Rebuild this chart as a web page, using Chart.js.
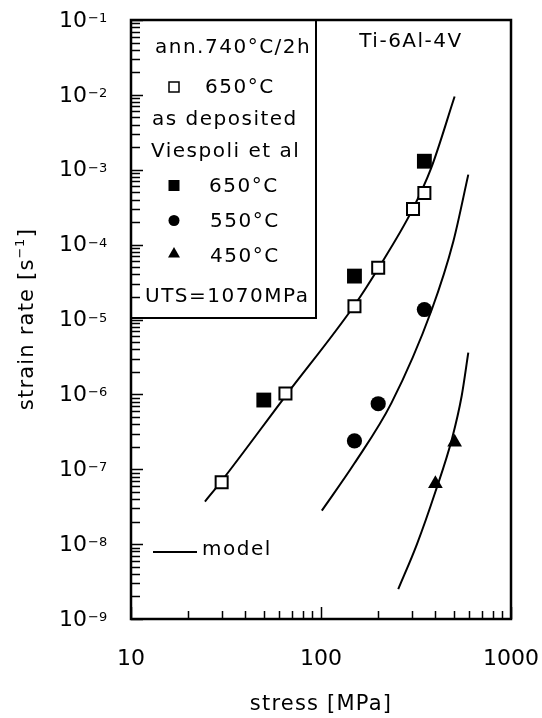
<!DOCTYPE html>
<html>
<head>
<meta charset="utf-8">
<script src="https://cdn.jsdelivr.net/npm/chart.js@4.4.1/dist/chart.umd.min.js"></script>
<style>
  html, body { margin: 0; padding: 0; background: #fff; }
</style>
</head>
<body>
<canvas id="chart" width="542" height="718"></canvas>
<script>
// Ti-6Al-4V: strain rate vs stress (log-log)

// annealed 740°C/2h, tested at 650°C (open squares)
const annStress = [30, 65, 150, 200, 305, 350];
const annRate = [6.7e-8, 1.03e-6, 1.5e-5, 4.9e-5, 3.0e-4, 4.9e-4];

// as deposited, Viespoli et al
const dep650Stress = [50, 150, 350];
const dep650Rate = [8.4e-7, 3.8e-5, 1.3e-3];
const dep550Stress = [150, 200, 350];
const dep550Rate = [2.4e-7, 7.5e-7, 1.36e-5];
const dep450Stress = [400, 505];
const dep450Rate = [6.4e-8, 2.3e-7];

// model curves
const model650Stress = [24.5, 30, 65, 150, 200, 300, 380, 505];
const model650Rate = [3.7e-8, 7.0e-8, 9.5e-7, 1.55e-5, 4.8e-5, 2.8e-4, 1.05e-3, 9.5e-3];
const model550Stress = [101, 150, 235, 383, 497, 596];
const model550Rate = [2.8e-8, 1.2e-7, 7.7e-7, 1.36e-5, 1.1e-4, 8.6e-4];
const model450Stress = [255, 320, 400, 490, 550, 596];
const model450Rate = [2.5e-9, 1.0e-8, 5.0e-8, 2.6e-7, 9.5e-7, 3.6e-6];

// axis ranges
const xMin = 10, xMax = 1000;
const yMin = 1e-9, yMax = 1e-1;

const FONT = "'DejaVu Sans', 'Liberation Sans', sans-serif";

function pts(xs, ys) {
  return xs.map((x, i) => ({ x: x, y: ys[i] }));
}

function modelLine(xs, ys) {
  return {
    data: pts(xs, ys),
    showLine: true,
    pointRadius: 0,
    borderColor: '#000',
    borderWidth: 2,
    cubicInterpolationMode: 'monotone',
    order: 2
  };
}

function setText(ctx, size, spacing) {
  ctx.font = size + 'px ' + FONT;
  ctx.letterSpacing = (spacing || 0) + 'px';
}

const decorations = {
  id: 'decorations',
  afterDraw(chart) {
    const ctx = chart.ctx;
    const a = chart.chartArea;
    const xs = chart.scales.x, ys = chart.scales.y;
    ctx.save();
    ctx.fillStyle = '#000';
    ctx.strokeStyle = '#000';

    // inward ticks, bottom and left
    ctx.lineWidth = 1.5;
    ctx.beginPath();
    for (let e = 1; e <= 3; e++) {
      for (let m = 1; m <= 9; m++) {
        const v = m * Math.pow(10, e);
        if (v < xMin || v > xMax) continue;
        const px = Math.round(xs.getPixelForValue(v)) + 0.5;
        const len = m === 1 ? 12 : 8;
        ctx.moveTo(px, a.bottom);
        ctx.lineTo(px, a.bottom - len);
      }
    }
    for (let e = -9; e <= -1; e++) {
      for (let m = 1; m <= 9; m++) {
        const v = m * Math.pow(10, e);
        if (v < yMin * 0.999 || v > yMax * 1.001) continue;
        const py = Math.round(ys.getPixelForValue(v)) + 0.5;
        const len = m === 1 ? 12 : 9;
        ctx.moveTo(a.left, py);
        ctx.lineTo(a.left + len, py);
      }
    }
    ctx.stroke();

    // frame
    ctx.lineWidth = 2.5;
    ctx.strokeRect(a.left, a.top, a.right - a.left, a.bottom - a.top);

    // x tick labels
    setText(ctx, 22);
    ctx.textAlign = 'center';
    ctx.textBaseline = 'alphabetic';
    [10, 100, 1000].forEach(v => {
      ctx.fillText(String(v), xs.getPixelForValue(v), 665);
    });

    // y tick labels 10^-n
    for (let e = -9; e <= -1; e++) {
      const py = ys.getPixelForValue(Math.pow(10, e));
      setText(ctx, 22);
      ctx.textAlign = 'right';
      ctx.textBaseline = 'middle';
      ctx.fillText('10', 87, py + 1);
      setText(ctx, 13);
      ctx.textAlign = 'left';
      ctx.textBaseline = 'alphabetic';
      ctx.fillText('\u2212' + (-e), 88, py + 2);
    }

    // axis titles
    setText(ctx, 21, 1.2);
    ctx.textAlign = 'center';
    ctx.textBaseline = 'alphabetic';
    ctx.fillText('stress [MPa]', (a.left + a.right) / 2, 710);

    ctx.save();
    ctx.translate(33, (a.top + a.bottom) / 2);
    ctx.rotate(-Math.PI / 2);
    ctx.textAlign = 'left';
    setText(ctx, 21, 1.2);
    const p1 = 'strain rate [s', p3 = ']';
    const w1 = ctx.measureText(p1).width;
    const w3 = ctx.measureText(p3).width;
    setText(ctx, 13, 0.5);
    const p2 = '\u22121';
    const w2 = ctx.measureText(p2).width;
    let x0 = -(w1 + w2 + w3) / 2;
    setText(ctx, 21, 1.2);
    ctx.fillText(p1, x0, 0);
    setText(ctx, 13, 0.5);
    ctx.fillText(p2, x0 + w1, -9);
    setText(ctx, 21, 1.2);
    ctx.fillText(p3, x0 + w1 + w2 + 1, 0);
    ctx.restore();

    // legend box
    ctx.lineWidth = 2;
    ctx.beginPath();
    ctx.moveTo(316, a.top);
    ctx.lineTo(316, 318);
    ctx.lineTo(a.left, 318);
    ctx.stroke();

    setText(ctx, 20, 1.5);
    ctx.textAlign = 'left';
    ctx.textBaseline = 'alphabetic';
    ctx.fillText('ann.740\u00b0C/2h', 155, 53);
    ctx.fillText('650\u00b0C', 205, 93);
    ctx.fillText('as deposited', 152, 125);
    ctx.fillText('Viespoli et al', 151, 157);
    ctx.fillText('650\u00b0C', 209, 192);
    ctx.fillText('550\u00b0C', 210, 227);
    ctx.fillText('450\u00b0C', 210, 262);
    ctx.fillText('UTS=1070MPa', 145, 302);

    // legend symbols
    ctx.lineWidth = 1.5;
    ctx.strokeRect(169, 82, 10, 10);
    ctx.fillRect(168.5, 180, 11, 11);
    ctx.beginPath();
    ctx.arc(174, 220.5, 5.5, 0, Math.PI * 2);
    ctx.fill();
    ctx.beginPath();
    ctx.moveTo(174, 247);
    ctx.lineTo(180, 257.5);
    ctx.lineTo(168, 257.5);
    ctx.closePath();
    ctx.fill();

    // alloy label
    ctx.textAlign = 'center';
    ctx.fillText('Ti-6Al-4V', 411, 47);

    // model legend
    ctx.lineWidth = 2;
    ctx.beginPath();
    ctx.moveTo(153, 552);
    ctx.lineTo(197, 552);
    ctx.stroke();
    ctx.textAlign = 'left';
    ctx.fillText('model', 202, 555);

    ctx.restore();
  }
};

new Chart(document.getElementById('chart'), {
  type: 'scatter',
  data: {
    datasets: [
      {
        data: pts(annStress, annRate),
        pointStyle: 'rect', pointRadius: 8.5,
        backgroundColor: '#fff', borderColor: '#000', borderWidth: 2, order: 1
      },
      {
        data: pts(dep650Stress, dep650Rate),
        pointStyle: 'rect', pointRadius: 10.5,
        backgroundColor: '#000', borderColor: '#000', borderWidth: 0, order: 1
      },
      {
        data: pts(dep550Stress, dep550Rate),
        pointStyle: 'circle', pointRadius: 7.6,
        backgroundColor: '#000', borderColor: '#000', borderWidth: 0, order: 1
      },
      {
        data: pts(dep450Stress, dep450Rate),
        pointStyle: 'triangle', pointRadius: 8.5,
        backgroundColor: '#000', borderColor: '#000', borderWidth: 0, order: 1
      },
      modelLine(model650Stress, model650Rate),
      modelLine(model550Stress, model550Rate),
      modelLine(model450Stress, model450Rate)
    ]
  },
  options: {
    responsive: false,
    animation: false,
    layout: { padding: { left: 131, right: 31, top: 20, bottom: 99 } },
    plugins: { legend: { display: false }, tooltip: { enabled: false } },
    scales: {
      x: { type: 'logarithmic', min: xMin, max: xMax, display: false },
      y: { type: 'logarithmic', min: yMin, max: yMax, display: false }
    }
  },
  plugins: [decorations]
});
</script>
</body>
</html>
